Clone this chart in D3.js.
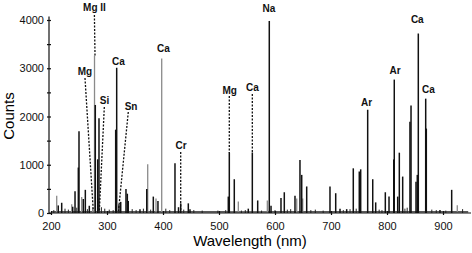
<!DOCTYPE html>
<html>
<head>
<meta charset="utf-8">
<script src="https://cdn.jsdelivr.net/npm/d3@7"></script>
<style>
    body { margin: 0; background: #fff; }
    svg { display: block; font-family: "Liberation Sans", Arial, sans-serif; }
    .axis path, .axis line { stroke: #111; stroke-width: 1.2; }
    .axis text { font-size: 11px; fill: #111; }
    .tag { font-size: 10px; font-weight: bold; fill: #111; text-anchor: middle; }
    .pointer { stroke: #111; stroke-width: 1.3; stroke-dasharray: 2, 1.5; fill: none; }
</style>
</head>
<body>
<svg id="chart" width="472" height="253"></svg>
<script>
// black spectrum: line position (nm) and peak height (counts)
var blackNm = [213, 219.1, 238.8, 242.9, 248.8, 250, 257.7, 261.3, 268.4, 279.1, 283.4, 285.7,
    315.5, 317.3, 321.4, 324.5, 333.9, 336.3, 338, 358.9, 371, 382.7, 391,
    421.4, 427.7, 431.6, 445.2, 448.2, 516.6, 518.4, 527.3, 552.3, 559.5, 569.1, 589.8, 592.9,
    610.7, 616.6, 635.7, 644.6, 647.7, 656.6, 698.2, 708.4, 716.1, 728, 739.8, 750.5, 753,
    765.5, 774.5, 779.8, 797, 803.6, 812, 813, 819.1, 822, 828, 841, 842.9, 851.8, 854.1,
    855.9, 869.1, 870.2, 894.6, 915.5];
var blackCounts = [157, 212, 130, 450, 942, 1693, 290, 480, 150, 2239, 1113, 1966,
    1727, 3010, 180, 230, 498, 400, 250, 80, 500, 340, 250,
    1029, 120, 200, 200, 80, 340, 1255, 700, 90, 1255, 260, 3980, 150,
    310, 430, 360, 1100, 790, 550, 550, 410, 90, 80, 926, 860, 905,
    2140, 700, 220, 430, 340, 1110, 2765, 340, 1250, 755, 1890, 2230, 650, 790,
    3720, 2370, 1750, 60, 480];

// grey spectrum
var greyNm = [210.2, 237, 254.8, 274.5, 277.7, 284.8, 372.7, 387.5, 397.7, 534.5, 586.3,
    638.8, 649.5, 925.5];
var greyCounts = [360, 180, 330, 120, 3263, 300, 1010, 300, 3204, 240, 260, 300, 300, 160];

// small baseline bumps of the black spectrum
var noiseNm = [205, 225, 231, 246, 265, 290, 296, 304, 311, 345, 352, 365, 378, 405, 412,
    437, 455, 470, 498, 512, 540, 547, 576, 600, 622, 628, 664, 672, 686, 722, 734, 745,
    786, 791, 832, 836, 880, 888, 905, 935];
var noiseCounts = [60, 90, 70, 110, 80, 120, 90, 70, 60, 80, 60, 90, 70, 90, 60,
    70, 60, 50, 50, 60, 50, 60, 50, 60, 70, 80, 60, 70, 50, 60, 80, 90,
    70, 60, 90, 110, 70, 60, 50, 80];

var yTicks = [0, 500, 1000, 1500, 2000, 2500, 3000, 3500, 4000];
var xTicks = [200, 300, 400, 500, 600, 700, 800, 900];

// element tags: text anchor and dotted pointer (from, to), in nm / counts
var tagText = ["Mg II", "Mg", "Si", "Ca", "Sn", "Ca", "Cr", "Mg", "Ca", "Na", "Ar", "Ar", "Ca", "Ca"];
var tagNm = [277.7, 260.7, 295.5, 320.5, 342.9, 400.9, 432.1, 519.1, 559.8, 589.3, 763.4, 814.3, 854.1, 874.1];
var tagCounts = [4186, 2860, 2259, 3067, 2135, 3337, 1326, 2466, 2528, 4166, 2218, 2881, 3938, 2487];

var pointerFromNm = [277.5, 260.7, 295.2, 338, 431.6, 518.4, 559.5];
var pointerFromCounts = [4104, 2798, 2197, 2093, 1264, 2425, 2466];
var pointerToNm = [278.6, 275.5, 286.3, 320.5, 431.6, 518.4, 559.5];
var pointerToCounts = [3254, 41, 41, 41, 41, 1243, 1243];

var svg = d3.select("#chart");

var x = d3.scaleLinear().domain([200, 950]).range([51, 471]);
var y = d3.scaleLinear().domain([0, 4000]).range([213, 20]);

// baseline of the spectra
svg.append("line")
    .attr("x1", x(200)).attr("x2", x(945))
    .attr("y1", y(25)).attr("y2", y(25))
    .style("stroke", "#222").style("stroke-width", 1.2);
svg.append("line")
    .attr("x1", x(512)).attr("x2", x(590))
    .attr("y1", y(15)).attr("y2", y(15))
    .style("stroke", "#888").style("stroke-width", 1.5);

function drawLines(nm, counts, colour, width) {
    svg.append("g").selectAll("line")
        .data(d3.zip(nm, counts))
        .enter()
        .append("line")
        .attr("x1", d => x(d[0])).attr("x2", d => x(d[0]))
        .attr("y1", y(0)).attr("y2", d => y(d[1]))
        .style("stroke", colour)
        .style("stroke-width", width);
}

drawLines(noiseNm, noiseCounts, "#222", 1);
drawLines(greyNm, greyCounts, "#8a8a8a", 1.3);
drawLines(blackNm, blackCounts, "#111", 1.5);

// axes
var yAxis = svg.append("g")
    .attr("class", "axis")
    .attr("transform", "translate(49,0)")
    .call(d3.axisLeft(y).tickValues(yTicks).tickSize(2).tickPadding(3)
        .tickFormat(d => d % 1000 === 0 ? d : ""));
yAxis.select(".domain").attr("d", "M0," + y(0) + "V" + y(4070));
yAxis.selectAll(".tick line").attr("x1", 2).attr("x2", -2);

var xAxis = svg.append("g")
    .attr("class", "axis")
    .attr("transform", "translate(0," + y(0) + ")")
    .call(d3.axisBottom(x).tickValues(xTicks).tickSize(2).tickPadding(7));
xAxis.select(".domain").attr("d", "M49,0H471");
xAxis.selectAll(".tick line").attr("y1", -2).attr("y2", 2);

svg.append("text")
    .attr("x", 250).attr("y", 246)
    .attr("text-anchor", "middle")
    .style("font-size", "15px")
    .text("Wavelength (nm)");

svg.append("text")
    .attr("transform", "translate(14,116) rotate(-90)")
    .attr("text-anchor", "middle")
    .style("font-size", "15px")
    .text("Counts");

// dotted pointers and tags
svg.append("g").selectAll("line")
    .data(d3.range(pointerFromNm.length))
    .enter()
    .append("line")
    .attr("class", "pointer")
    .attr("x1", i => x(pointerFromNm[i])).attr("y1", i => y(pointerFromCounts[i]))
    .attr("x2", i => x(pointerToNm[i])).attr("y2", i => y(pointerToCounts[i]));

svg.append("g").selectAll("text")
    .data(tagText)
    .enter()
    .append("text")
    .attr("class", "tag")
    .attr("x", (d, i) => x(tagNm[i]))
    .attr("y", (d, i) => y(tagCounts[i]))
    .text(d => d);
</script>
</body>
</html>
